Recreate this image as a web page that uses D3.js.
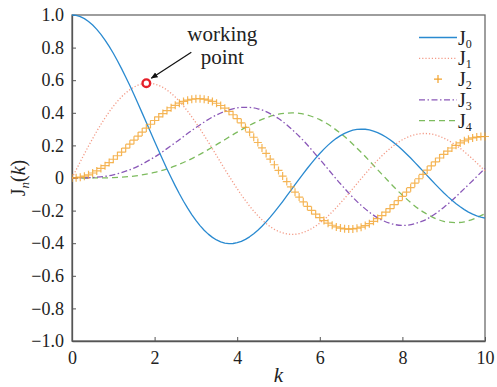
<!DOCTYPE html>
<html>
<head>
<meta charset="utf-8">
<script src="https://cdn.jsdelivr.net/npm/d3@7/dist/d3.min.js"></script>
<style>
  html, body { margin: 0; padding: 0; background: #fff; }
  svg text { font-family: "Liberation Serif", "DejaVu Serif", "Times New Roman", serif; }
</style>
</head>
<body>
<svg id="chart" width="497" height="387"></svg>
<script>
// Bessel functions of the first kind, J0..J4, on 0 <= k <= 10
const FONT = "'Liberation Serif', 'DejaVu Serif', 'Times New Roman', serif";

// fine grid (step 0.1) for J0, J1, J2
const kFine = d3.range(0, 101).map(i => i / 10);
const J0 = [
  1.0000, 0.9975, 0.9900, 0.9776, 0.9604, 0.9385, 0.9120, 0.8812, 0.8463, 0.8075,
  0.7652, 0.7196, 0.6711, 0.6201, 0.5669, 0.5118, 0.4554, 0.3980, 0.3400, 0.2818,
  0.2239, 0.1666, 0.1104, 0.0555, 0.0025, -0.0484, -0.0968, -0.1424, -0.1850, -0.2243,
  -0.2601, -0.2921, -0.3202, -0.3443, -0.3643, -0.3801, -0.3918, -0.3992, -0.4026, -0.4018,
  -0.3971, -0.3887, -0.3766, -0.3610, -0.3423, -0.3205, -0.2961, -0.2693, -0.2404, -0.2097,
  -0.1776, -0.1443, -0.1103, -0.0758, -0.0412, -0.0068, 0.0270, 0.0599, 0.0917, 0.1220,
  0.1506, 0.1773, 0.2017, 0.2238, 0.2433, 0.2601, 0.2740, 0.2850, 0.2931, 0.2981,
  0.3001, 0.2991, 0.2951, 0.2882, 0.2786, 0.2663, 0.2516, 0.2346, 0.2154, 0.1944,
  0.1717, 0.1475, 0.1222, 0.0960, 0.0692, 0.0419, 0.0146, -0.0125, -0.0392, -0.0653,
  -0.0903, -0.1142, -0.1367, -0.1576, -0.1768, -0.1939, -0.2090, -0.2218, -0.2323, -0.2403,
  -0.2459
];
const J1 = [
  0.0000, 0.0499, 0.0995, 0.1483, 0.1960, 0.2423, 0.2867, 0.3290, 0.3688, 0.4059,
  0.4401, 0.4709, 0.4983, 0.5220, 0.5419, 0.5579, 0.5699, 0.5778, 0.5815, 0.5812,
  0.5767, 0.5683, 0.5559, 0.5399, 0.5202, 0.4971, 0.4708, 0.4416, 0.4097, 0.3754,
  0.3391, 0.3009, 0.2613, 0.2207, 0.1792, 0.1374, 0.0955, 0.0538, 0.0128, -0.0272,
  -0.0660, -0.1033, -0.1386, -0.1719, -0.2028, -0.2311, -0.2566, -0.2791, -0.2985, -0.3147,
  -0.3276, -0.3371, -0.3432, -0.3459, -0.3453, -0.3414, -0.3343, -0.3241, -0.3110, -0.2951,
  -0.2767, -0.2559, -0.2329, -0.2081, -0.1816, -0.1538, -0.1250, -0.0953, -0.0652, -0.0349,
  -0.0047, 0.0252, 0.0543, 0.0826, 0.1096, 0.1353, 0.1592, 0.1813, 0.2013, 0.2192,
  0.2346, 0.2476, 0.2580, 0.2657, 0.2708, 0.2731, 0.2728, 0.2697, 0.2641, 0.2559,
  0.2453, 0.2324, 0.2174, 0.2004, 0.1816, 0.1613, 0.1395, 0.1166, 0.0928, 0.0684,
  0.0435
];
const J2 = [
  0.0000, 0.0012, 0.0050, 0.0112, 0.0197, 0.0306, 0.0437, 0.0588, 0.0758, 0.0946,
  0.1149, 0.1366, 0.1593, 0.1830, 0.2074, 0.2321, 0.2570, 0.2817, 0.3061, 0.3299,
  0.3528, 0.3746, 0.3950, 0.4139, 0.4310, 0.4461, 0.4590, 0.4695, 0.4777, 0.4832,
  0.4861, 0.4862, 0.4835, 0.4780, 0.4697, 0.4586, 0.4448, 0.4283, 0.4093, 0.3879,
  0.3641, 0.3383, 0.3105, 0.2811, 0.2501, 0.2178, 0.1846, 0.1506, 0.1161, 0.0813,
  0.0466, 0.0121, -0.0217, -0.0547, -0.0867, -0.1173, -0.1464, -0.1737, -0.1989, -0.2221,
  -0.2429, -0.2612, -0.2769, -0.2899, -0.3001, -0.3074, -0.3119, -0.3135, -0.3123, -0.3082,
  -0.3014, -0.2920, -0.2800, -0.2656, -0.2490, -0.2303, -0.2097, -0.1875, -0.1638, -0.1389,
  -0.1130, -0.0864, -0.0593, -0.0320, -0.0047, 0.0223, 0.0488, 0.0745, 0.0992, 0.1228,
  0.1448, 0.1653, 0.1840, 0.2007, 0.2154, 0.2279, 0.2381, 0.2458, 0.2512, 0.2542,
  0.2546
];

// coarse grid (step 0.5) for J3, J4, drawn as smooth curves
const kCoarse = d3.range(0, 21).map(i => i / 2);
const J3 = [
  0.0000, 0.0026, 0.0196, 0.0610, 0.1289, 0.2166, 0.3091, 0.3868, 0.4302, 0.4247,
  0.3648, 0.2561, 0.1148, -0.0354, -0.1676, -0.2581, -0.2911, -0.2626, -0.1809, -0.0653,
  0.0584
];
const J4 = [
  0.0000, 0.0002, 0.0025, 0.0118, 0.0340, 0.0738, 0.1320, 0.2044, 0.2811, 0.3484,
  0.3912, 0.3967, 0.3576, 0.2748, 0.1578, 0.0238, -0.1054, -0.2077, -0.2655, -0.2691,
  -0.2196
];

const xTicks = [0, 2, 4, 6, 8, 10];
const yTicks = [1.0, 0.8, 0.6, 0.4, 0.2, 0, -0.2, -0.4, -0.6, -0.8, -1.0];
const yTickLabels = ["1.0", "0.8", "0.6", "0.4", "0.2", "0", "\u22120.2", "\u22120.4", "\u22120.6", "\u22120.8", "\u22121.0"];

const seriesNames = ["0", "1", "2", "3", "4"];
const workingK = 1.8;

// ---- layout ----
const svg = d3.select("#chart");
const plot = { left: 72, right: 485, top: 15, bottom: 341 };
const x = d3.scaleLinear().domain([0, 10]).range([plot.left, plot.right]);
const y = d3.scaleLinear().domain([-1, 1]).range([plot.bottom, plot.top]);

const colors = {
  j0: "#2a8ad0",
  j1: "#f39a86",
  j2: "#f2a22c",
  j3: "#8a58b8",
  j4: "#7dbb5e"
};

// frame
svg.append("rect")
  .attr("x", plot.left).attr("y", plot.top)
  .attr("width", plot.right - plot.left).attr("height", plot.bottom - plot.top)
  .attr("fill", "none").attr("stroke", "#6a6a6a").attr("stroke-width", 1.3);

// axes
const xAxis = svg.append("g")
  .attr("transform", `translate(0,${plot.bottom})`)
  .call(d3.axisBottom(x).tickValues(xTicks).tickFormat(d3.format("d"))
    .tickSizeInner(-4).tickSizeOuter(0).tickPadding(10));
const yAxis = svg.append("g")
  .attr("transform", `translate(${plot.left},0)`)
  .call(d3.axisLeft(y).tickValues(yTicks)
    .tickFormat((d, i) => yTickLabels[i])
    .tickSizeInner(-4).tickSizeOuter(0).tickPadding(8));

[xAxis, yAxis].forEach(g => {
  g.attr("font-family", FONT).attr("font-size", 18);
  g.select(".domain").attr("stroke", "#555").attr("stroke-width", 1.3);
  g.selectAll(".tick line").attr("stroke", "#555").attr("stroke-width", 1);
  g.selectAll(".tick text")
    .attr("fill", "#222")
    .attr("font-family", FONT)
    .attr("font-size", 18);
});

// clip to plotting area
svg.append("clipPath").attr("id", "plotClip")
  .append("rect")
  .attr("x", plot.left).attr("y", plot.top - 6)
  .attr("width", plot.right - plot.left + 6).attr("height", plot.bottom - plot.top + 12);

const curves = svg.append("g").attr("clip-path", "url(#plotClip)");

function drawLine(kArr, vals, color, dash, curve) {
  const line = d3.line()
    .x((d, i) => x(kArr[i]))
    .y(d => y(d))
    .curve(curve || d3.curveLinear);
  curves.append("path")
    .datum(vals)
    .attr("d", line)
    .attr("fill", "none")
    .attr("stroke", color)
    .attr("stroke-width", 1.3)
    .attr("stroke-dasharray", dash)
    .attr("stroke-linejoin", "round");
}

drawLine(kCoarse, J4, colors.j4, "6,4", d3.curveCatmullRom.alpha(0.5));
drawLine(kCoarse, J3, colors.j3, "6,2.5,1.5,2.5", d3.curveCatmullRom.alpha(0.5));
drawLine(kFine, J1, colors.j1, "1.2,2", d3.curveLinear);
drawLine(kFine, J0, colors.j0, null, d3.curveLinear);

// J2: plus markers only
const plusPath = s => `M${-s},0H${s}M0,${-s}V${s}`;
curves.append("g")
  .selectAll("path")
  .data(J2)
  .join("path")
  .attr("transform", (d, i) => `translate(${x(kFine[i])},${y(d)})`)
  .attr("d", plusPath(4))
  .attr("stroke", colors.j2)
  .attr("stroke-opacity", 0.8)
  .attr("stroke-width", 1.2)
  .attr("fill", "none");

// ---- working point annotation ----
const wi = kFine.findIndex(k => Math.abs(k - workingK) < 1e-9);
const wx = x(workingK), wy = y(J1[wi]);

svg.append("defs").append("marker")
  .attr("id", "arrowHead")
  .attr("viewBox", "0 0 10 10")
  .attr("refX", 9).attr("refY", 5)
  .attr("markerWidth", 7).attr("markerHeight", 7)
  .attr("markerUnits", "userSpaceOnUse")
  .attr("orient", "auto")
  .append("path")
  .attr("d", "M0,1L10,5L0,9Z")
  .attr("fill", "#111");

svg.append("line")
  .attr("x1", wx + 45).attr("y1", wy - 31)
  .attr("x2", wx + 5).attr("y2", wy - 5)
  .attr("stroke", "#111").attr("stroke-width", 1.2)
  .attr("marker-end", "url(#arrowHead)");

svg.append("circle")
  .attr("cx", wx).attr("cy", wy).attr("r", 3.8)
  .attr("fill", "#fff")
  .attr("stroke", "#e5202a").attr("stroke-width", 2.4);

const ann = svg.append("text")
  .attr("text-anchor", "middle")
  .attr("fill", "#222")
  .attr("font-family", FONT)
  .attr("font-size", 21);
ann.append("tspan").attr("x", wx + 76).attr("y", wy - 42).text("working");
ann.append("tspan").attr("x", wx + 76).attr("y", wy - 19).text("point");

// ---- legend ----
const legend = svg.append("g");
const lx0 = 419, lx1 = 457, ly0 = 37.5, lstep = 20.8;
const legendStyles = [
  { color: colors.j0, dash: null },
  { color: colors.j1, dash: "1.2,2" },
  { color: colors.j2, marker: true },
  { color: colors.j3, dash: "6,2.5,1.5,2.5" },
  { color: colors.j4, dash: "6,4" }
];
seriesNames.forEach((n, i) => {
  const ly = ly0 + i * lstep;
  const st = legendStyles[i];
  if (st.marker) {
    legend.append("path")
      .attr("transform", `translate(${(lx0 + lx1) / 2},${ly})`)
      .attr("d", plusPath(4))
      .attr("stroke", st.color).attr("stroke-width", 1.2).attr("fill", "none");
  } else {
    legend.append("line")
      .attr("x1", lx0).attr("x2", lx1).attr("y1", ly).attr("y2", ly)
      .attr("stroke", st.color).attr("stroke-width", 1.3)
      .attr("stroke-dasharray", st.dash);
  }
  const t = legend.append("text")
    .attr("x", lx1 + 1).attr("y", ly + 7)
    .attr("fill", "#222")
    .attr("font-family", FONT)
    .attr("font-size", 20);
  t.append("tspan").text("J");
  t.append("tspan").attr("dy", 3).attr("font-size", 12).text(n);
});

// ---- axis titles ----
svg.append("text")
  .attr("x", (plot.left + plot.right) / 2).attr("y", 382)
  .attr("text-anchor", "middle")
  .attr("fill", "#222")
  .attr("font-family", FONT)
  .attr("font-size", 21).attr("font-style", "italic")
  .text("k");

const yl = svg.append("text")
  .attr("transform", `translate(25,${(plot.top + plot.bottom) / 2}) rotate(-90)`)
  .attr("text-anchor", "middle")
  .attr("fill", "#222")
  .attr("font-family", FONT)
  .attr("font-size", 20);
yl.append("tspan").text("J");
yl.append("tspan").attr("dy", 4).attr("font-size", 13).attr("font-style", "italic").text("n");
yl.append("tspan").attr("dy", -4).text("(");
yl.append("tspan").attr("font-style", "italic").text("k");
yl.append("tspan").text(")");
</script>
</body>
</html>
